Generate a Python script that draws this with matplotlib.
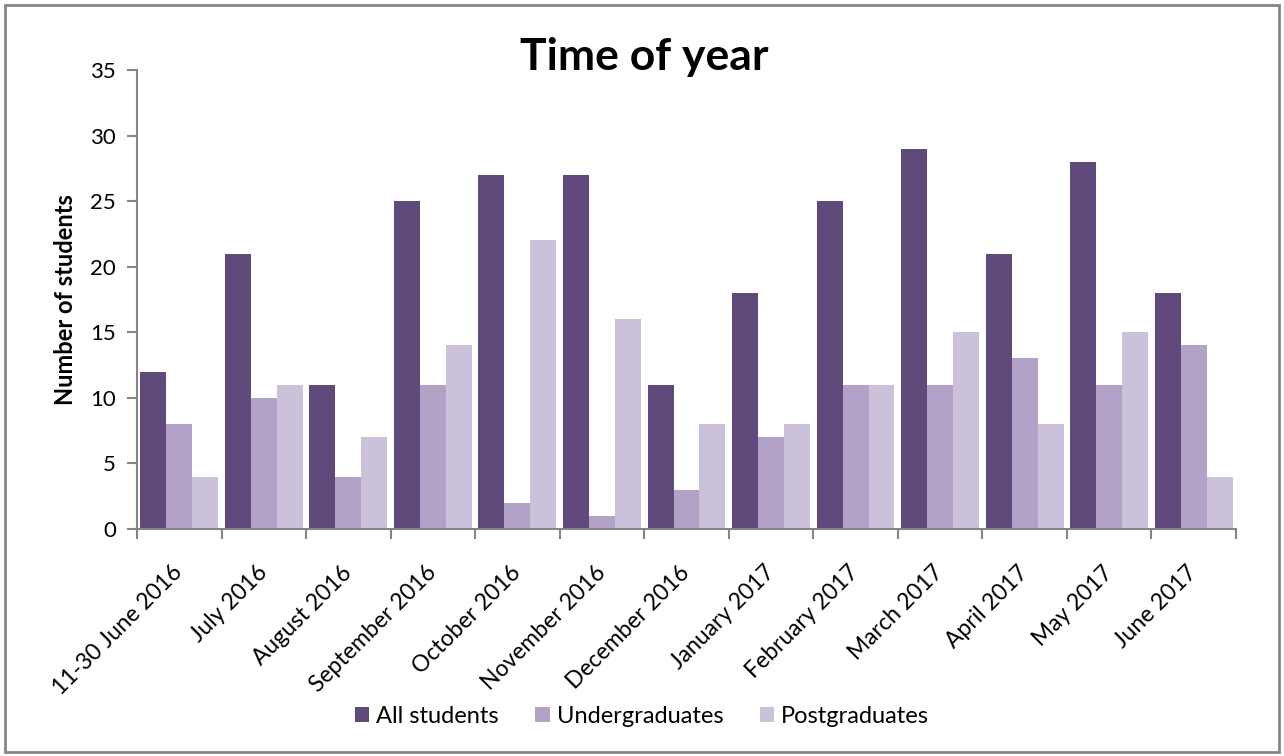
import matplotlib
matplotlib.use("Agg")
import matplotlib.pyplot as plt
import numpy as np
from matplotlib.patches import Rectangle

# data
months = ["11-30 June 2016", "July 2016", "August 2016", "September 2016",
          "October 2016", "November 2016", "December 2016", "January 2017",
          "February 2017", "March 2017", "April 2017", "May 2017", "June 2017"]
all_students = [12, 21, 11, 25, 27, 27, 11, 18, 25, 29, 21, 28, 18]
undergrads = [8, 10, 4, 11, 2, 1, 3, 7, 11, 11, 13, 11, 14]
postgrads = [4, 11, 7, 14, 22, 16, 8, 8, 11, 15, 8, 15, 4]

plt.rcParams['font.family'] = ['Lato', 'DejaVu Sans']
grey = '#868686'

fig = plt.figure(figsize=(12.84, 7.56), dpi=100)
ax = fig.add_axes([0.1067, 0.3003, 0.8559, 0.6071])

x = np.arange(len(months))
w = 0.307
ax.bar(x - w, all_students, w, color='#604A7B', label='All students')
ax.bar(x, undergrads, w, color='#B3A2C7', label='Undergraduates')
ax.bar(x + w, postgrads, w, color='#CCC1DA', label='Postgraduates')

ax.set_xlim(-0.5, len(months) - 0.5)
ax.set_ylim(0, 35)
ax.set_yticks(range(0, 36, 5))
ax.set_xticks(x)
ax.set_xticklabels(months, rotation=45, ha='right', va='center',
                   rotation_mode='anchor', fontsize=16.5)
ax.set_xticks(np.arange(-0.5, len(months)), minor=True)
ax.tick_params(axis='x', which='major', length=0, pad=29)
ax.tick_params(axis='x', which='minor', length=7, color=grey, width=1.5)
ax.tick_params(axis='y', length=7, color=grey, width=1.5, labelsize=16, pad=8)

for s in ['top', 'right']:
    ax.spines[s].set_visible(False)
for s in ['left', 'bottom']:
    ax.spines[s].set_color(grey)
    ax.spines[s].set_linewidth(1.5)

ax.set_ylabel('Number of students', fontsize=17, fontweight='bold', labelpad=10)
fig.text(0.502, 0.924, 'Time of year', fontsize=32, fontweight='bold', ha='center', va='center')

fig.legend(loc='center', bbox_to_anchor=(0.5, 0.052), ncol=3, frameon=False,
           fontsize=17, handlelength=0.6, handleheight=0.6, handletextpad=0.3,
           columnspacing=1.55)

# chart border
fig.patches.append(Rectangle((0.004, 0.005), 0.992, 0.989, transform=fig.transFigure,
                             fill=False, edgecolor=grey, linewidth=2))

fig.savefig('out.png', dpi=100)
